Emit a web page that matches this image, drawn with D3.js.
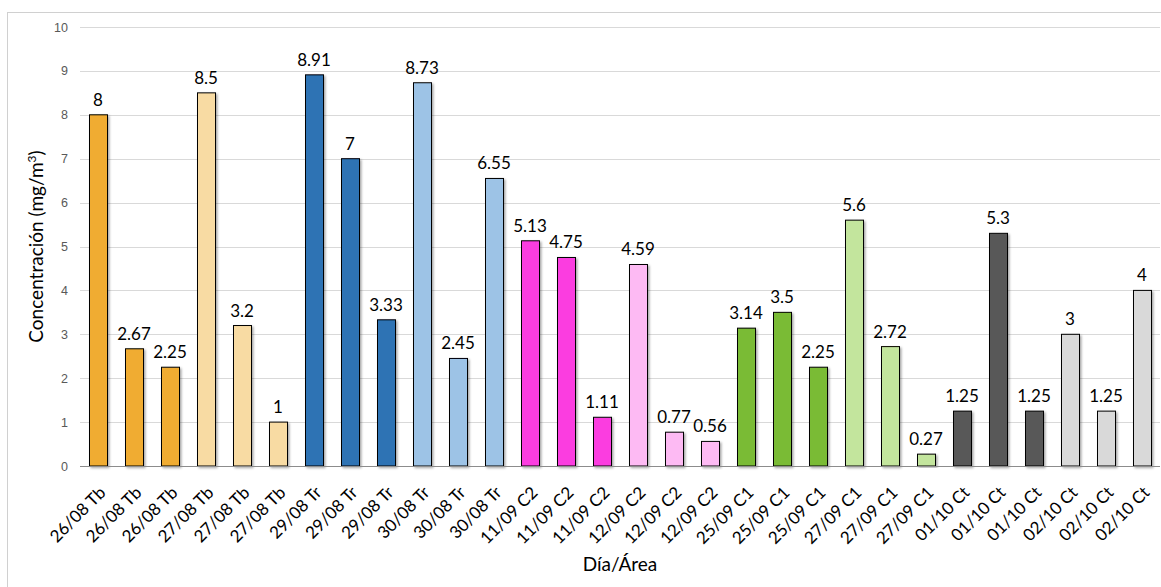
<!DOCTYPE html>
<html>
<head>
<meta charset="utf-8">
<script src="https://cdn.jsdelivr.net/npm/d3@7"></script>
<style>
  body { margin: 0; background: #fff; }
  svg { display: block; font-family: Lato, 'Open Sans', sans-serif; }
</style>
</head>
<body>
<svg width="1161" height="587"></svg>
<script>
// data
const labels = [
  '26/08 Tb', '26/08 Tb', '26/08 Tb', '27/08 Tb', '27/08 Tb', '27/08 Tb',
  '29/08 Tr', '29/08 Tr', '29/08 Tr', '30/08 Tr', '30/08 Tr', '30/08 Tr',
  '11/09 C2', '11/09 C2', '11/09 C2', '12/09 C2', '12/09 C2', '12/09 C2',
  '25/09 C1', '25/09 C1', '25/09 C1', '27/09 C1', '27/09 C1', '27/09 C1',
  '01/10 Ct', '01/10 Ct', '01/10 Ct', '02/10 Ct', '02/10 Ct', '02/10 Ct'
];
const values = [
  8, 2.67, 2.25, 8.5, 3.2, 1,
  8.91, 7, 3.33, 8.73, 2.45, 6.55,
  5.13, 4.75, 1.11, 4.59, 0.77, 0.56,
  3.14, 3.5, 2.25, 5.6, 2.72, 0.27,
  1.25, 5.3, 1.25, 3, 1.25, 4
];
// one colour per group of three bars
const groupColors = [
  '#F0AC32', '#F8DBA3', '#2E73B4', '#9DC3E6', '#FB3EE0',
  '#FDBAF3', '#7ABB34', '#C3E59D', '#595959', '#D9D9D9'
];
const yTicks = [0, 1, 2, 3, 4, 5, 6, 7, 8, 9, 10];

const svg = d3.select('svg');
const margin = {left: 80, right: 1, top: 27, bottom: 121};
const width = 1161;
const height = 587;

const x = d3.scaleBand()
  .domain(d3.range(values.length))
  .range([margin.left, width - margin.right])
  .paddingInner(0.5)
  .paddingOuter(0.25);

const y = d3.scaleLinear()
  .domain([0, 10])
  .range([height - margin.bottom, margin.top]);

// outer chart border
svg.append('rect')
  .attr('x', 7.5).attr('y', 12.5)
  .attr('width', 1160).attr('height', 590)
  .attr('fill', 'none')
  .attr('stroke', '#d0d0d0');

const defs = svg.append('defs');
const shadow = defs.append('filter').attr('id', 'shadow')
  .attr('x', '-20%').attr('y', '-5%').attr('width', '160%').attr('height', '120%');
shadow.append('feDropShadow')
  .attr('dx', 1.5).attr('dy', 1.5).attr('stdDeviation', 1)
  .attr('flood-color', '#000').attr('flood-opacity', 0.35);

// gridlines
svg.append('g')
  .selectAll('line')
  .data(yTicks.slice(1))
  .join('line')
    .attr('x1', margin.left).attr('x2', width - margin.right)
    .attr('y1', d => Math.round(y(d)) + 0.5).attr('y2', d => Math.round(y(d)) + 0.5)
    .attr('stroke', '#d9d9d9');

const yAxis = svg.append('g')
  .attr('transform', `translate(${margin.left},0)`)
  .call(d3.axisLeft(y).tickValues(yTicks).tickSize(0).tickPadding(12));
yAxis.select('.domain').remove();
yAxis.selectAll('text')
  .attr('fill', '#595959')
  .style('font-size', '12.5px');

// bars
svg.append('g')
  .selectAll('rect')
  .data(values)
  .join('rect')
    .attr('x', (d, i) => Math.round(x(i)) + 0.5)
    .attr('y', d => y(d))
    .attr('width', x.bandwidth())
    .attr('height', d => y(0) - y(d))
    .attr('fill', (d, i) => groupColors[Math.floor(i / 3)])
    .attr('stroke', '#000')
    .attr('stroke-width', 1)
    .attr('filter', 'url(#shadow)');

// zero line
svg.append('line')
  .attr('x1', margin.left).attr('x2', width - margin.right)
  .attr('y1', Math.round(y(0)) + 0.5).attr('y2', Math.round(y(0)) + 0.5)
  .attr('stroke', '#8c8c8c');

// value labels
svg.append('g')
  .selectAll('text')
  .data(values)
  .join('text')
    .attr('x', (d, i) => x(i) + x.bandwidth() / 2)
    .attr('y', d => y(d) - 9)
    .attr('text-anchor', 'middle')
    .attr('fill', '#000')
    .style('font-size', '17px')
    .text(d => d);

// category labels
svg.append('g')
  .selectAll('text')
  .data(labels)
  .join('text')
    .attr('transform', (d, i) => `translate(${x(i) + x.bandwidth() / 2},${y(0) + 19}) rotate(-45)`)
    .attr('text-anchor', 'end')
    .attr('dy', '0.72em')
    .attr('fill', '#000')
    .style('font-size', '17px')
    .text(d => d);

// axis titles
svg.append('text')
  .attr('x', (margin.left + width - margin.right) / 2)
  .attr('y', 571)
  .attr('text-anchor', 'middle')
  .style('font-size', '19px')
  .text('Día/Área');

const yTitle = svg.append('text')
  .attr('transform', `translate(43,${(y(0) + y(10)) / 2}) rotate(-90)`)
  .attr('text-anchor', 'middle')
  .style('font-size', '19px');
yTitle.append('tspan').text('Concentración (mg/m');
yTitle.append('tspan').attr('baseline-shift', 'super').style('font-size', '12px').text('3');
yTitle.append('tspan').text(')');
</script>
</body>
</html>
